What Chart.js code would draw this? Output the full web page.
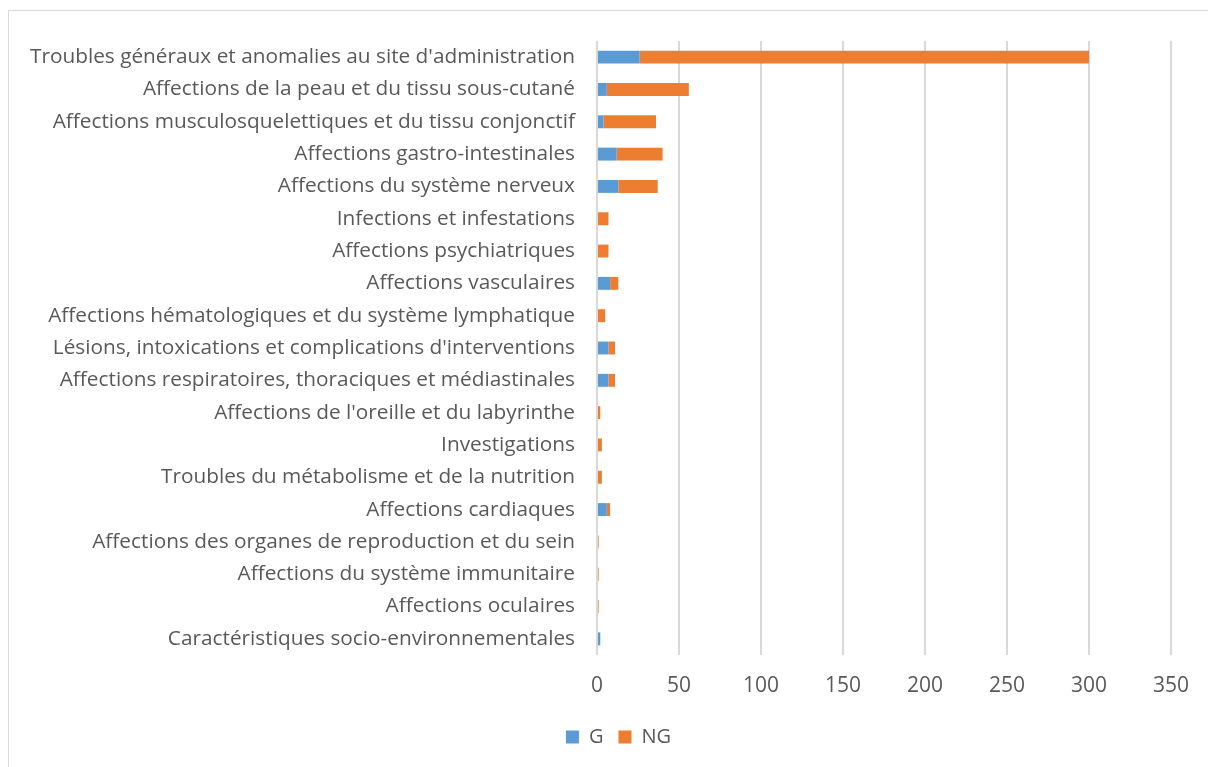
<!DOCTYPE html>
<html>
<head>
<meta charset="utf-8">
<script src="https://cdn.jsdelivr.net/npm/chart.js@4"></script>
<style>
  body { margin: 0; background: #fff; }
  #frame { position: absolute; left: 8px; top: 10px; width: 1230px; height: 790px; border: 1px solid #d9d9d9; }
  #myChart { position: absolute; left: 0; top: 0; }
</style>
</head>
<body>
<div id="frame"></div>
<canvas id="myChart" width="1208" height="767"></canvas>
<script>
// categories (top to bottom)
var categories = [
  "Troubles généraux et anomalies au site d'administration",
  "Affections de la peau et du tissu sous-cutané",
  "Affections musculosquelettiques et du tissu conjonctif",
  "Affections gastro-intestinales",
  "Affections du système nerveux",
  "Infections et infestations",
  "Affections psychiatriques",
  "Affections vasculaires",
  "Affections hématologiques et du système lymphatique",
  "Lésions, intoxications et complications d'interventions",
  "Affections respiratoires, thoraciques et médiastinales",
  "Affections de l'oreille et du labyrinthe",
  "Investigations",
  "Troubles du métabolisme et de la nutrition",
  "Affections cardiaques",
  "Affections des organes de reproduction et du sein",
  "Affections du système immunitaire",
  "Affections oculaires",
  "Caractéristiques socio-environnementales"
];
var G  = [26, 6, 4, 12, 13, 0, 0, 8, 0, 7, 7, 0, 0, 0, 6, 0, 0, 0, 2];
var NG = [274, 50, 32, 28, 24, 7, 7, 5, 5, 4, 4, 2, 3, 3, 2, 1, 1, 1, 0];

var textColor = "#595959";
var fontFamily = "'Open Sans', sans-serif";

// nudge the legend a bit to the right, like in the original
var shiftLegend = {
  id: 'shiftLegend',
  afterLayout: function (chart) {
    chart.legend.left += 33;
    chart.legend.right += 33;
  }
};

var ctx = document.getElementById("myChart");
var myChart = new Chart(ctx, {
  type: 'bar',
  data: {
    labels: categories,
    datasets: [
      {
        label: "G",
        data: G,
        backgroundColor: "#5B9BD5",
        barPercentage: 0.4,
        categoryPercentage: 1
      },
      {
        label: "NG",
        data: NG,
        backgroundColor: "#ED7D31",
        barPercentage: 0.4,
        categoryPercentage: 1
      }
    ]
  },
  plugins: [shiftLegend],
  options: {
    responsive: false,
    animation: false,
    indexAxis: 'y',
    layout: { padding: { top: 41, right: 37, bottom: 10, left: 0 } },
    scales: {
      x: {
        stacked: true,
        min: 0,
        max: 350,
        afterFit: function (scale) { scale.height = 57; },
        ticks: { stepSize: 50, color: textColor, font: { family: fontFamily, size: 21 }, padding: 18 },
        grid: { color: "#d9d9d9", lineWidth: 2, drawTicks: false },
        border: { display: false }
      },
      y: {
        stacked: true,
        afterFit: function (scale) { scale.width = 597; },
        ticks: { color: textColor, font: { family: fontFamily, size: 20.8 }, padding: 22, autoSkip: false },
        grid: { display: false, drawTicks: false },
        border: { display: false }
      }
    },
    plugins: {
      legend: {
        position: 'bottom',
        labels: {
          color: textColor,
          font: { family: fontFamily, size: 20 },
          boxWidth: 13,
          boxHeight: 13,
          padding: 15
        }
      },
      tooltip: { enabled: false }
    }
  }
});
</script>
</body>
</html>
